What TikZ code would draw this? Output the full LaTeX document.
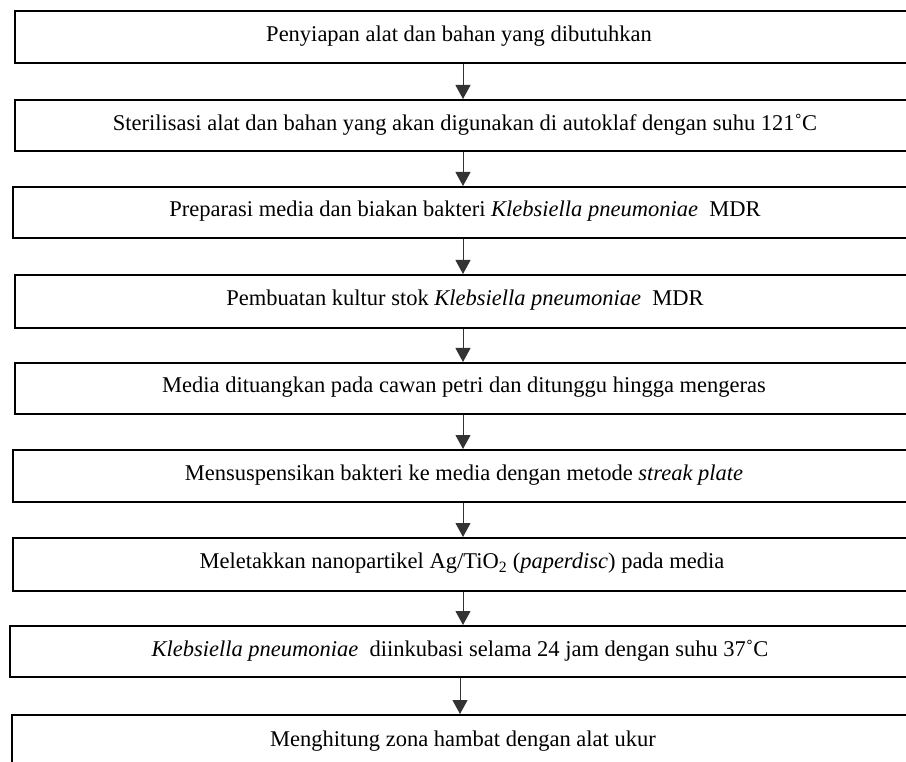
\documentclass[tikz,border=0pt]{standalone}
\usepackage{fontspec}
\setmainfont{Liberation Serif}
\usetikzlibrary{arrows.meta}
\begin{document}
\begin{tikzpicture}[x=1pt,y=-1pt,
  stepbox/.style={draw=black,line width=2pt,rectangle,inner sep=0pt,anchor=north west},
  steptext/.style={inner sep=0pt,font=\fontsize{22.5}{27}\selectfont,anchor=center},
  flow/.style={draw=black!80,line width=1pt,-{Triangle[width=15pt,length=14pt]}}]
\useasboundingbox (0,0) rectangle (906,762);
\clip (0,0) rectangle (906,762);
% boxes (right edges run off the page)
\node[stepbox,minimum width=946pt,minimum height=52pt] (b1) at (14,10) {};
\node[stepbox,minimum width=946pt,minimum height=51pt] (b2) at (14,99) {};
\node[stepbox,minimum width=948pt,minimum height=51pt] (b3) at (12,186) {};
\node[stepbox,minimum width=946pt,minimum height=53pt] (b4) at (14,274) {};
\node[stepbox,minimum width=946pt,minimum height=51pt] (b5) at (14,362) {};
\node[stepbox,minimum width=948pt,minimum height=52pt] (b6) at (12,449) {};
\node[stepbox,minimum width=948pt,minimum height=53pt] (b7) at (12,537) {};
\node[stepbox,minimum width=951pt,minimum height=51pt] (b8) at (9,625) {};
\node[stepbox,minimum width=949pt,minimum height=60pt] (b9) at (11,714) {};
% texts
\node[steptext] (t1) at (459,36) {Penyiapan alat dan bahan yang dibutuhkan};
\node[steptext] (t2) at (465,124.5) {Sterilisasi alat dan bahan yang akan digunakan di autoklaf dengan suhu 121˚C};
\node[steptext] (t3) at (465,211.5) {Preparasi media dan biakan bakteri \textit{Klebsiella pneumoniae}\ \ MDR};
\node[steptext] (t4) at (465,300.5) {Pembuatan kultur stok \textit{Klebsiella pneumoniae}\ \ MDR};
\node[steptext] (t5) at (464,387.5) {Media dituangkan pada cawan petri dan ditunggu hingga mengeras};
\node[steptext] (t6) at (464,475) {Mensuspensikan bakteri ke media dengan metode \textit{streak plate}};
\node[steptext] (t7) at (462,563.5) {Meletakkan nanopartikel Ag/TiO\textsubscript{2} (\textit{paperdisc}) pada media};
\node[steptext] (t8) at (460,650.5) {\textit{Klebsiella pneumoniae}\ \ diinkubasi selama 24 jam dengan suhu 37˚C};
\node[steptext] (t9) at (463,741) {Menghitung zona hambat dengan alat ukur};
% connectors
\coordinate (ax) at (463,0);
\coordinate (ay) at (460,0);
\foreach \a/\b in {b1/b2,b2/b3,b3/b4,b4/b5,b5/b6,b6/b7,b7/b8}
  \draw[flow] (\a.south -| ax) -- (\b.north -| ax);
\draw[flow] (b8.south -| ay) -- (b9.north -| ay);
\end{tikzpicture}
\end{document}
